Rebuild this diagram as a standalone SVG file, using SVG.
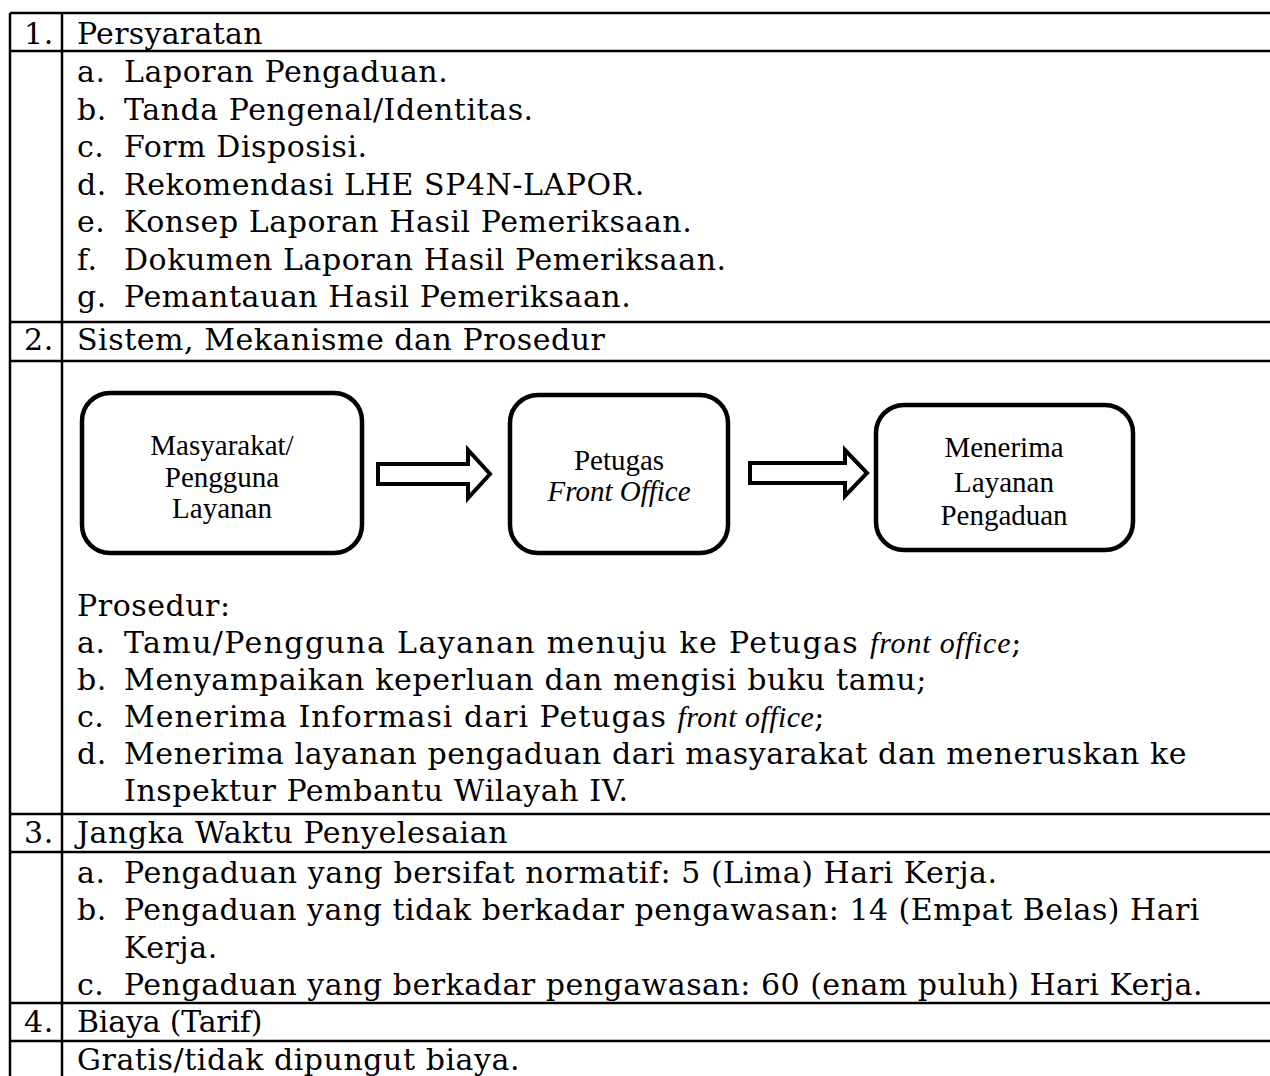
<svg xmlns="http://www.w3.org/2000/svg" width="1270" height="1076" viewBox="0 0 1270 1076">
<style>
.t{font-family:"DejaVu Serif","Liberation Serif",serif;font-size:30px;letter-spacing:0.55px;fill:#000}
.b{font-family:"Liberation Serif","Times New Roman",serif;font-size:29px;fill:#000;text-anchor:middle}
.bi{font-family:"Liberation Serif","Times New Roman",serif;font-style:italic;letter-spacing:0}
.grid{stroke:#000;stroke-width:2.5;fill:none}
.box{fill:#fff;stroke:#000;stroke-width:4.5}
.arr{fill:#fff;stroke:#000;stroke-width:4;stroke-linejoin:miter}
</style>
<rect width="1270" height="1076" fill="#fff"/>
<g id="table-grid" class="grid">
<line x1="10" y1="13" x2="1270" y2="13"/>
<line x1="10" y1="51" x2="1270" y2="51"/>
<line x1="10" y1="322" x2="1270" y2="322"/>
<line x1="10" y1="361" x2="1270" y2="361"/>
<line x1="10" y1="814" x2="1270" y2="814"/>
<line x1="10" y1="852" x2="1270" y2="852"/>
<line x1="10" y1="1003" x2="1270" y2="1003"/>
<line x1="10" y1="1041" x2="1270" y2="1041"/>
<line x1="10" y1="13" x2="10" y2="1076"/>
<line x1="62" y1="13" x2="62" y2="1076"/>
</g>
<g id="section-1">
<text class="t" x="24" y="44">1.</text>
<text class="t" x="77" y="44" textLength="186">Persyaratan</text>
<text class="t" x="77" y="82">a.</text><text class="t" x="124" y="82">Laporan Pengaduan.</text>
<text class="t" x="77" y="119.5">b.</text><text class="t" x="124" y="119.5">Tanda Pengenal/Identitas.</text>
<text class="t" x="77" y="157">c.</text><text class="t" x="124" y="157">Form Disposisi.</text>
<text class="t" x="77" y="194.5">d.</text><text class="t" x="124" y="194.5">Rekomendasi LHE SP4N-LAPOR.</text>
<text class="t" x="77" y="232">e.</text><text class="t" x="124" y="232">Konsep Laporan Hasil Pemeriksaan.</text>
<text class="t" x="77" y="269.5">f.</text><text class="t" x="124" y="269.5">Dokumen Laporan Hasil Pemeriksaan.</text>
<text class="t" x="77" y="307">g.</text><text class="t" x="124" y="307">Pemantauan Hasil Pemeriksaan.</text>
</g>
<g id="section-2">
<text class="t" x="24" y="350">2.</text>
<text class="t" x="77" y="350">Sistem, Mekanisme dan Prosedur</text>
</g>
<g id="node-masyarakat">
<rect class="box" x="82" y="393" width="280" height="160" rx="28"/>
<text class="b" x="222" y="455">Masyarakat/</text>
<text class="b" x="222" y="487">Pengguna</text>
<text class="b" x="222" y="518">Layanan</text>
</g>
<g id="node-petugas">
<rect class="box" x="510" y="395" width="218" height="158" rx="28"/>
<text class="b" x="619" y="470">Petugas</text>
<text class="b bi" x="619" y="501">Front Office</text>
</g>
<g id="node-menerima">
<rect class="box" x="876" y="405" width="257" height="145" rx="28"/>
<text class="b" x="1004" y="457">Menerima</text>
<text class="b" x="1004" y="492">Layanan</text>
<text class="b" x="1004" y="525">Pengaduan</text>
</g>
<g id="connectors">
<polygon class="arr" points="378,464 468,464 468,450 490,474 468,498 468,484 378,484"/>
<polygon class="arr" points="750,463 845,463 845,450 867,473 845,496 845,483 750,483"/>
</g>
<g id="prosedur">
<text class="t" x="77" y="616">Prosedur:</text>
<text class="t" x="77" y="653">a.</text><text class="t" x="124" y="653" textLength="898">Tamu/Pengguna Layanan menuju ke Petugas <tspan class="bi">front office</tspan>;</text>
<text class="t" x="77" y="690">b.</text><text class="t" x="124" y="690" textLength="803">Menyampaikan keperluan dan mengisi buku tamu;</text>
<text class="t" x="77" y="727">c.</text><text class="t" x="124" y="727" textLength="701">Menerima Informasi dari Petugas <tspan class="bi">front office</tspan>;</text>
<text class="t" x="77" y="764">d.</text><text class="t" x="124" y="764" textLength="1063">Menerima layanan pengaduan dari masyarakat dan meneruskan ke</text>
<text class="t" x="124" y="801">Inspektur Pembantu Wilayah IV.</text>
</g>
<g id="section-3">
<text class="t" x="24" y="843">3.</text>
<text class="t" x="77" y="843">Jangka Waktu Penyelesaian</text>
<text class="t" x="77" y="883">a.</text><text class="t" x="124" y="883">Pengaduan yang bersifat normatif: 5 (Lima) Hari Kerja.</text>
<text class="t" x="77" y="920">b.</text><text class="t" x="124" y="920" textLength="1076">Pengaduan yang tidak berkadar pengawasan: 14 (Empat Belas) Hari</text>
<text class="t" x="124" y="958">Kerja.</text>
<text class="t" x="77" y="995">c.</text><text class="t" x="124" y="995" textLength="1079">Pengaduan yang berkadar pengawasan: 60 (enam puluh) Hari Kerja.</text>
</g>
<g id="section-4">
<text class="t" x="24" y="1032">4.</text>
<text class="t" x="77" y="1032" textLength="186">Biaya (Tarif)</text>
<text class="t" x="77" y="1070">Gratis/tidak dipungut biaya.</text>
</g>
</svg>
